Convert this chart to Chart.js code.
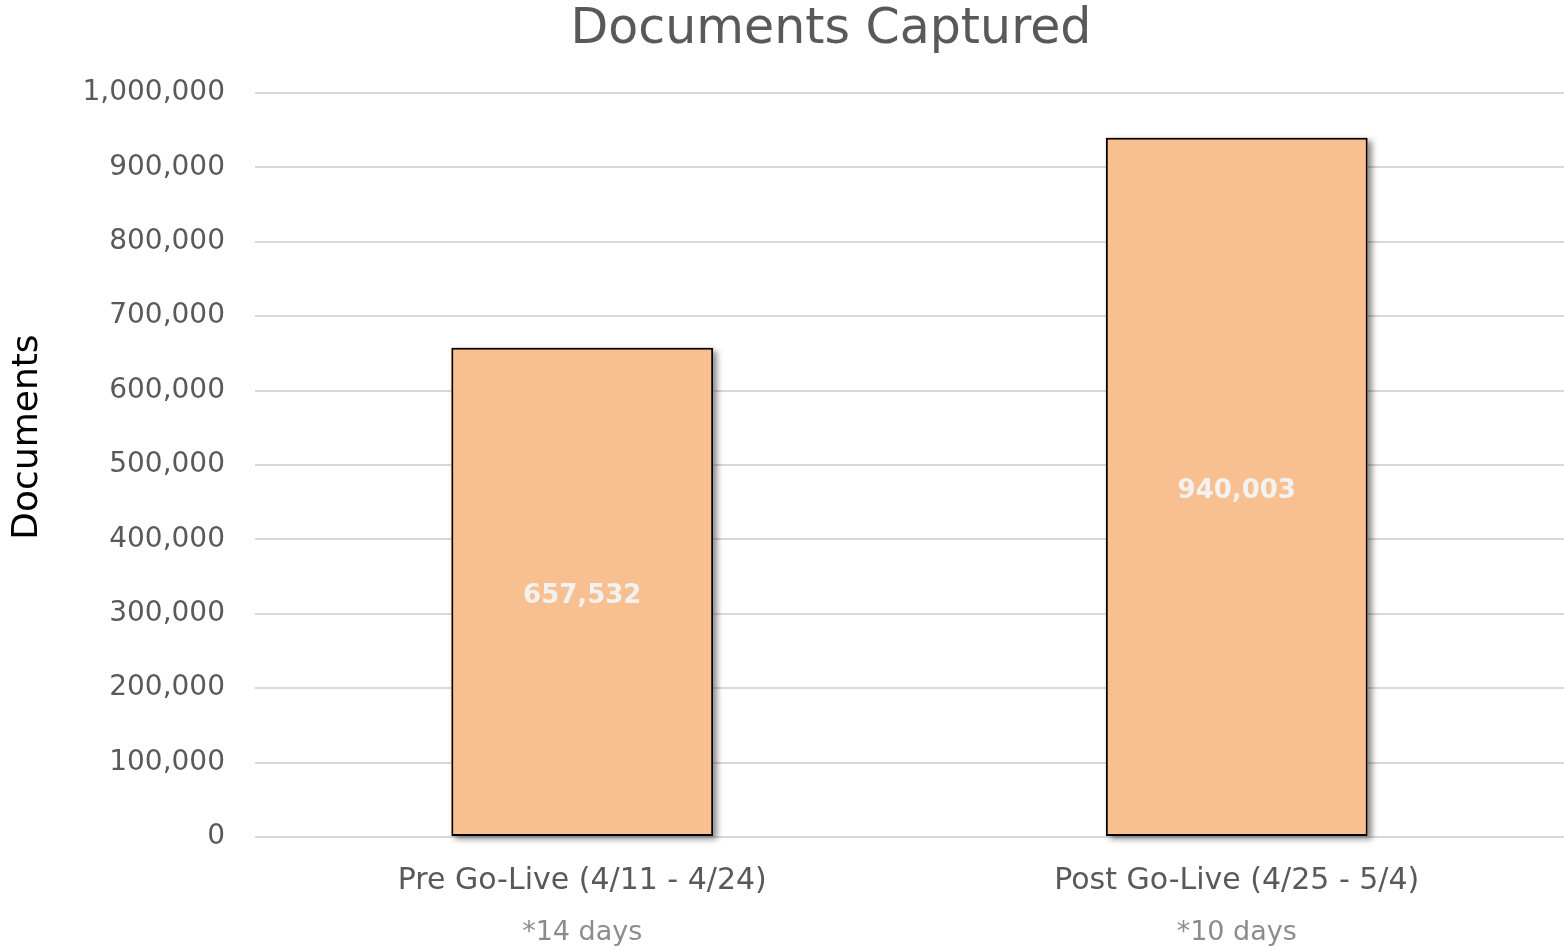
<!DOCTYPE html>
<html>
<head>
<meta charset="utf-8">
<script src="https://cdn.jsdelivr.net/npm/chart.js@4"></script>
<style>
  html, body { margin: 0; padding: 0; background: #fff; }
  #wrap { width: 1564px; height: 950px; position: relative; }
</style>
</head>
<body>
<div id="wrap"><canvas id="chart"></canvas></div>
<script>
// data
const categories = ["Pre Go-Live (4/11 - 4/24)", "Post Go-Live (4/25 - 5/4)"];
const dayNotes   = ["*14 days", "*10 days"];
const documents  = [657532, 940003];

const FONT = "'DejaVu Sans', sans-serif";

// soft drop shadow behind the bars (bar element clips its own drawing,
// so paint a shadowed copy of each rect first)
const barShadow = {
  id: "barShadow",
  beforeDatasetsDraw(chart) {
    const ctx  = chart.ctx;
    const meta = chart.getDatasetMeta(0);
    ctx.save();
    ctx.shadowColor   = "rgba(0,0,0,0.45)";
    ctx.shadowBlur    = 6;
    ctx.shadowOffsetX = 4;
    ctx.shadowOffsetY = 3;
    ctx.fillStyle = "#f8c090";
    meta.data.forEach((bar) => {
      const { x, y, base, width } = bar.getProps(["x", "y", "base", "width"], true);
      ctx.fillRect(x - width / 2, Math.min(y, base), width, Math.abs(base - y));
    });
    ctx.restore();
  },
};

// value in the middle of each bar
const barValues = {
  id: "barValues",
  afterDatasetsDraw(chart) {
    const ctx  = chart.ctx;
    const meta = chart.getDatasetMeta(0);
    ctx.save();
    ctx.font = "bold 26px " + FONT;
    ctx.fillStyle = "#f2f2f2";
    ctx.textAlign = "center";
    ctx.textBaseline = "middle";
    meta.data.forEach((bar, i) => {
      const v = chart.data.datasets[0].data[i];
      ctx.fillText(v.toLocaleString("en-US"), bar.x, (bar.y + bar.base) / 2 + 4);
    });
    ctx.restore();
  },
};

// title, axis title and the lighter second line under the categories
const extraText = {
  id: "extraText",
  afterDraw(chart) {
    const ctx = chart.ctx;
    const x   = chart.scales.x;
    ctx.save();
    ctx.textAlign = "center";
    ctx.textBaseline = "middle";

    ctx.font = "49px " + FONT;
    ctx.fillStyle = "#595959";
    ctx.fillText("Documents Captured", 831, 30);

    ctx.font = "27px " + FONT;
    ctx.fillStyle = "#8c8c8c";
    dayNotes.forEach((txt, i) => {
      ctx.fillText(txt, x.getPixelForValue(i), 933);
    });

    ctx.translate(28, 437);
    ctx.rotate(-Math.PI / 2);
    ctx.font = "36px " + FONT;
    ctx.fillStyle = "#000000";
    ctx.fillText("Documents", 0, 0);
    ctx.restore();
  },
};

new Chart(document.getElementById("chart"), {
  type: "bar",
  data: {
    labels: categories,
    datasets: [{
      label: "Documents",
      data: documents,
      backgroundColor: "#f8c090",
      borderColor: "#000000",
      borderWidth: 2,
      borderSkipped: false,
      categoryPercentage: 1,
      barPercentage: 0.4,
    }],
  },
  options: {
    responsive: true,
    maintainAspectRatio: false,
    animation: false,
    layout: { padding: { left: 0, right: 0, top: 93, bottom: 0 } },
    plugins: {
      legend: { display: false },
      tooltip: { enabled: false },
      title: { display: false },
    },
    scales: {
      x: {
        grid: { display: false, drawTicks: false },
        border: { display: false },
        ticks: { color: "#595959", font: { family: FONT, size: 30 }, padding: 26, maxRotation: 0 },
        afterFit(s) { s.height = 113; },
      },
      y: {
        min: 0,
        max: 1000000,
        grid: { color: "#d9d9d9", lineWidth: 2, drawTicks: false },
        border: { display: false },
        ticks: {
          stepSize: 100000,
          color: "#595959",
          font: { family: FONT, size: 28 },
          padding: 30,
          callback: (v) => v.toLocaleString("en-US"),
        },
        afterFit(s) { s.width = 255; },
      },
    },
  },
  plugins: [barShadow, barValues, extraText],
});
</script>
</body>
</html>
